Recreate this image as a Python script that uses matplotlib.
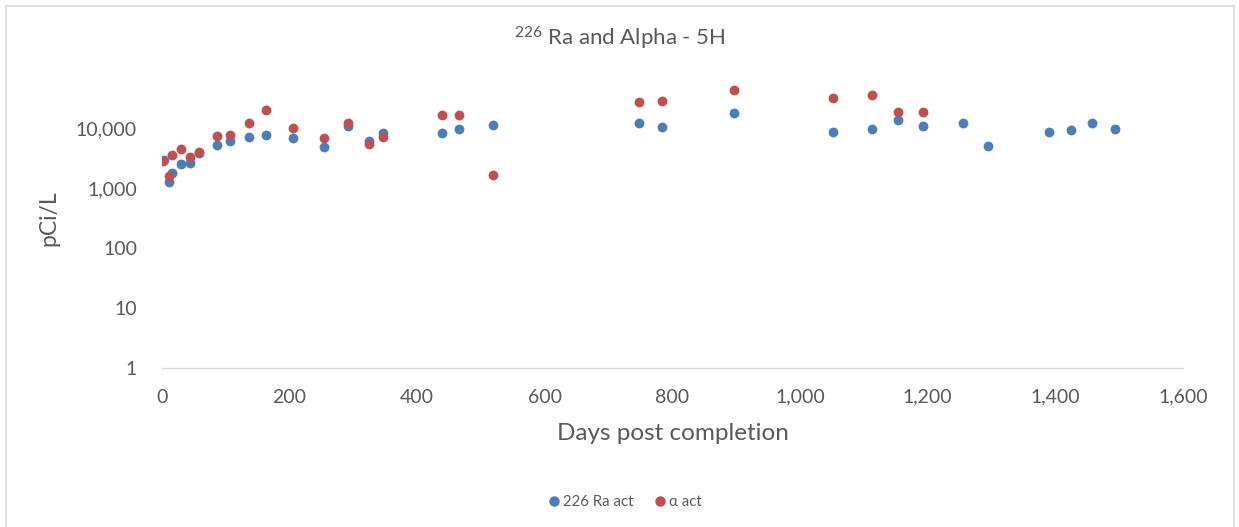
import matplotlib
matplotlib.use("Agg")
import matplotlib.pyplot as plt
from matplotlib.ticker import FuncFormatter, FixedLocator, NullLocator
from matplotlib.lines import Line2D
from matplotlib.patches import Rectangle

# ---- data ----
ra_days = [3, 11, 15, 30, 44, 58, 86, 107, 136, 163, 206, 254, 291, 325, 347,
           439, 465, 519, 748, 783, 896, 1052, 1112, 1153, 1192, 1255, 1294,
           1390, 1424, 1458, 1494]
ra_vals = [3050, 1310, 1800, 2540, 2690, 3900, 5420, 6150, 7360, 7740, 7000,
           4890, 11230, 6150, 8360, 8360, 10000, 11800, 12740, 10520, 18280,
           8920, 10000, 14130, 11230, 12740, 5210, 8920, 9520, 12740, 10000]

alpha_days = [2, 11, 15, 30, 44, 58, 86, 107, 136, 163, 206, 254, 291, 325,
              347, 439, 465, 519, 748, 783, 896, 1052, 1112, 1153, 1192]
alpha_vals = [2850, 1600, 3650, 4650, 3420, 4090, 7450, 7850, 12740, 20510,
              10130, 7080, 12740, 5480, 7360, 16940, 16940, 1690, 27870, 29310,
              44200, 32880, 37340, 19220, 19220]

x_ticks = [0, 200, 400, 600, 800, 1000, 1200, 1400, 1600]
y_ticks = [1, 10, 100, 1000, 10000]

series_names = ["226 Ra act", "\u03b1 act"]
title = "$^{226}$ Ra and Alpha - 5H"
xlabel = "Days post completion"
ylabel = "pCi/L"

# ---- style ----
FONT = "Lato"
plt.rcParams["font.family"] = [FONT, "DejaVu Sans"]
plt.rcParams["mathtext.fontset"] = "custom"
plt.rcParams["mathtext.rm"] = FONT
plt.rcParams["mathtext.it"] = FONT
plt.rcParams["mathtext.bf"] = FONT

BLUE = "#4A7EBB"
RED = "#C0504D"
TXT = "#595959"

W, H = 1239, 527
fig = plt.figure(figsize=(W / 100, H / 100), dpi=100)
fig.patch.set_facecolor("white")

# chart border
fig.patches.append(Rectangle((6 / W, -0.1), (1234 - 6) / W, 1.1 - 6 / H,
                             transform=fig.transFigure, fill=False,
                             edgecolor="#D9D9D9", linewidth=1.2))

left, right = 162 / W, 1183 / W
bottom, top = 1 - 368 / H, 1 - 69 / H
ax = fig.add_axes([left, bottom, right - left, top - bottom])

ax.scatter(ra_days, ra_vals, s=50, color=BLUE, zorder=3, linewidths=0)
ax.scatter(alpha_days, alpha_vals, s=50, color=RED, zorder=4, linewidths=0)

ax.set_yscale("log")
ax.set_xlim(0, 1600)
ax.set_ylim(1, 100000)
ax.xaxis.set_major_locator(FixedLocator(x_ticks))
ax.yaxis.set_major_locator(FixedLocator(y_ticks))
ax.yaxis.set_minor_locator(NullLocator())
fmt = FuncFormatter(lambda v, p: f"{int(round(v)):,}")
ax.xaxis.set_major_formatter(fmt)
ax.yaxis.set_major_formatter(fmt)

for s in ["top", "right", "left"]:
    ax.spines[s].set_visible(False)
ax.spines["bottom"].set_color("#D9D9D9")
ax.spines["bottom"].set_linewidth(1.0)
ax.tick_params(axis="both", length=0, labelsize=14, colors=TXT)
ax.tick_params(axis="x", pad=15)
ax.tick_params(axis="y", pad=18)

ax.set_xlabel(xlabel, fontsize=17.5, color=TXT, labelpad=12)
ax.set_ylabel(ylabel, fontsize=16.5, color=TXT, labelpad=12)

fig.text(620 / W, 1 - 38 / H, title, ha="center", va="center",
         fontsize=16, color=TXT)

handles = [Line2D([], [], marker="o", linestyle="none", color=BLUE, markersize=6.5),
           Line2D([], [], marker="o", linestyle="none", color=RED, markersize=6.5)]
fig.legend(handles, series_names, loc="center", bbox_to_anchor=(624 / W, 1 - 502 / H),
           ncol=2, frameon=False, fontsize=10.8, handletextpad=0.1,
           columnspacing=1.3, handlelength=1.0, labelcolor=TXT)

fig.savefig("out.png", dpi=100, facecolor="white")
